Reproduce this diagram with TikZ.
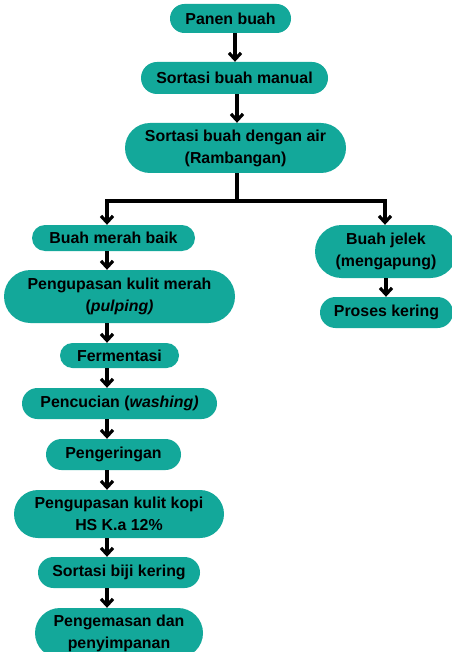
\documentclass[tikz,border=0pt]{standalone}
\usepackage{fontspec}
\setmainfont{Liberation Sans}
\usetikzlibrary{arrows.meta}
\definecolor{teal1}{HTML}{13A89A}
\begin{document}
\begin{tikzpicture}[x=1pt,y=-1pt,
  box/.style={fill=teal1, draw=none, inner sep=0pt, align=center,
    font=\fontsize{15.9}{22}\selectfont\bfseries},
  arr/.style={line width=3.2pt, -{Straight Barb[length=6.5pt,width=12pt]}},
  ln/.style={line width=3.2pt}]
\useasboundingbox[fill=white] (0,0) rectangle (451,652);
\node[box, minimum width=121, minimum height=29, rounded corners=14.5] (panen) at (230.5,18.5) {Panen buah};
\node[box, minimum width=187, minimum height=32, rounded corners=16] (manual) at (234.5,78) {Sortasi buah manual};
\node[box, minimum width=221, minimum height=50, rounded corners=25] (air) at (235.5,148) {Sortasi buah dengan air\\(Rambangan)};
\node[box, minimum width=163, minimum height=26, rounded corners=13] (merah) at (113.5,238) {Buah merah baik};
\node[box, minimum width=231, minimum height=53, rounded corners=26.5] (pulping) at (119.5,296.5) {Pengupasan kulit merah\\(\textit{pulping)}};
\node[box, minimum width=119, minimum height=25, rounded corners=12.5] (ferm) at (119.5,355.5) {Fermentasi};
\node[box, minimum width=195, minimum height=31, rounded corners=15.5] (cuci) at (119.5,403.5) {Pencucian (\textit{washing)}};
\node[box, minimum width=135, minimum height=31, rounded corners=15.5] (kering) at (113.5,454.5) {Pengeringan};
\node[box, minimum width=210, minimum height=48, rounded corners=24] (kopi) at (119,514) {Pengupasan kulit kopi\\HS K.a 12\%};
\node[box, minimum width=162, minimum height=31, rounded corners=15.5] (biji) at (119,572.5) {Sortasi biji kering};
\node[box, minimum width=168, minimum height=50, rounded corners=25] (kemas) at (119,633) {Pengemasan dan\\penyimpanan};
\node[box, minimum width=142, minimum height=53, rounded corners=26.5] (jelek) at (386,251.5) {Buah jelek\\(mengapung)};
\node[box, minimum width=133, minimum height=31, rounded corners=15.5] (proses) at (386.5,312.5) {Proses kering};
\coordinate (ax1) at (235,0);
\coordinate (ax2) at (237,0);
\coordinate (lx) at (107,0);
\coordinate (rx) at (385,0);
\coordinate (rx2) at (386,0);
\coordinate (split) at (237,201);
\draw[arr] (panen.south -| ax1) -- (manual.north -| ax1);
\draw[arr] (manual.south -| ax2) -- (air.north -| ax2);
\draw[ln] (air.south -| ax2) -- (split);
\draw[arr] (split) -| (merah.north -| lx);
\draw[arr] (split) -| (jelek.north -| rx);
\draw[arr] (merah.south -| lx) -- (pulping.north -| lx);
\draw[arr] (pulping.south -| lx) -- (ferm.north -| lx);
\draw[arr] (ferm.south -| lx) -- (cuci.north -| lx);
\draw[arr] (cuci.south -| lx) -- (kering.north -| lx);
\draw[arr] (kering.south -| lx) -- (kopi.north -| lx);
\draw[arr] (kopi.south -| lx) -- (biji.north -| lx);
\draw[arr] (biji.south -| lx) -- (kemas.north -| lx);
\draw[arr] (jelek.south -| rx2) -- (proses.north -| rx2);
\end{tikzpicture}
\end{document}
